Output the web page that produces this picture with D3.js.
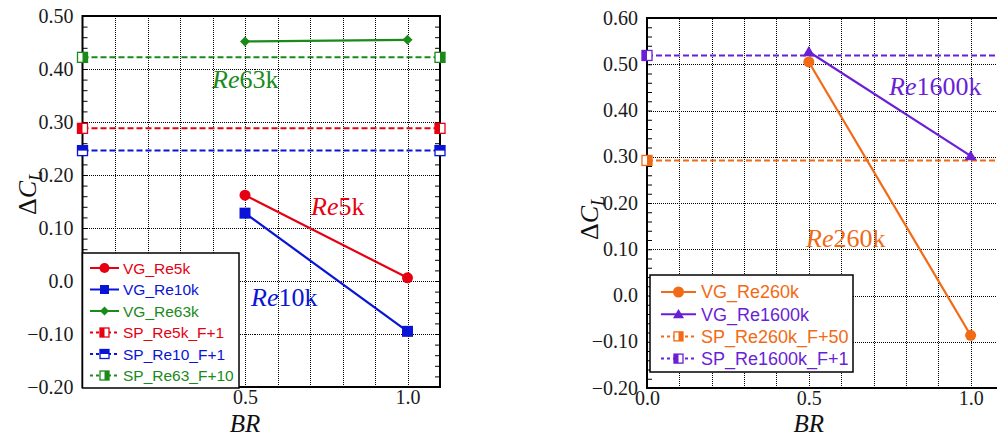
<!DOCTYPE html>
<html>
<head>
<meta charset="utf-8">
<script src="https://cdn.jsdelivr.net/npm/d3@7"></script>
<style>
  body { margin: 0; background: #fff; }
  svg { display: block; }
  .grid line { stroke: #000; stroke-width: 1; stroke-dasharray: 1,1; shape-rendering: crispEdges; }
  .minor line { stroke: #000; stroke-width: 1; }
</style>
</head>
<body>
<svg id="chart" width="997" height="436"></svg>
<script>
// ---- data ----
var brVG = [0.5, 1.0];
var spBR = [0.0, 1.1];

// left panel
var vgRe5k = [0.162, 0.006];
var vgRe10k = [0.128, -0.095];
var vgRe63k = [0.452, 0.455];
var spRe5k = 0.288;
var spRe10 = 0.246;
var spRe63 = 0.422;
var leftYTicks = [-0.2, -0.1, 0.0, 0.1, 0.2, 0.3, 0.4, 0.5];
var leftXTicks = [0.5, 1.0];
var leftXGrid = [0.1, 0.2, 0.3, 0.4, 0.5, 0.6, 0.7, 0.8, 0.9, 1.0];

// right panel
var vgRe260k = [0.505, -0.086];
var vgRe1600k = [0.527, 0.302];
var spRe260k = 0.292;
var spRe1600k = 0.519;
var rightYTicks = [-0.2, -0.1, 0.0, 0.1, 0.2, 0.3, 0.4, 0.5, 0.6];
var rightXTicks = [0.0, 0.5, 1.0];
var rightXGrid = [0.1, 0.2, 0.3, 0.4, 0.5, 0.6, 0.7, 0.8, 0.9, 1.0];

var RED = "#e60012", BLUE = "#0a14d6", GREEN = "#1a8a1a", ORANGE = "#f26a14", PURPLE = "#6a1fd6";
var SERIF = "'Liberation Serif', 'Times New Roman', Times, serif";
var SANS = "'Liberation Sans', Arial, sans-serif";

var svg = d3.select("#chart");

var fmtY = function (d) {
  if (Math.abs(d) < 1e-9) return "0.0";
  return d3.format(".2f")(d);
};

// half filled square, 'half' = left | right | top
function halfSquare(g, cx, cy, s, color, half) {
  g.append("rect").attr("x", cx - s / 2).attr("y", cy - s / 2).attr("width", s).attr("height", s)
    .attr("fill", "#fff").attr("stroke", color).attr("stroke-width", 1.3);
  var r = g.append("rect").attr("fill", color);
  if (half === "left") r.attr("x", cx - s / 2).attr("y", cy - s / 2).attr("width", s / 2).attr("height", s);
  if (half === "right") r.attr("x", cx).attr("y", cy - s / 2).attr("width", s / 2).attr("height", s);
  if (half === "top") r.attr("x", cx - s / 2).attr("y", cy - s / 2).attr("width", s).attr("height", s / 2);
}

// s = overall marker width in px
function marker(g, type, cx, cy, s, color) {
  var h = s / 2, d;
  if (type === "circle") d = d3.symbol().type(d3.symbolCircle).size(Math.PI * h * h)();
  else if (type === "square") d = d3.symbol().type(d3.symbolSquare).size(s * s)();
  else if (type === "diamond") d = "M0," + (-h) + "L" + h + ",0L0," + h + "L" + (-h) + ",0Z";
  else d = "M0," + (-h * 0.95) + "L" + h + "," + (h * 0.75) + "L" + (-h) + "," + (h * 0.75) + "Z";
  g.append("path").attr("d", d)
    .attr("transform", "translate(" + cx + "," + cy + ")")
    .attr("fill", color);
}

function drawPanel(p) {
  var x = d3.scaleLinear().domain([0, 1.1]).range([p.left, p.right]);
  var y = d3.scaleLinear().domain(p.yDomain).range([p.bottom, p.top]);
  var g = svg.append("g");

  // grid
  g.append("g").attr("class", "grid")
    .attr("transform", "translate(" + p.left + ",0)")
    .call(d3.axisLeft(y).tickValues(p.yTicks).tickSize(-(p.right - p.left)).tickFormat(""))
    .call(function (a) { a.select(".domain").remove(); });
  g.append("g").attr("class", "grid")
    .attr("transform", "translate(0," + p.bottom + ")")
    .call(d3.axisBottom(x).tickValues(p.xGrid).tickSize(-(p.bottom - p.top)).tickFormat(""))
    .call(function (a) { a.select(".domain").remove(); });

  // minor ticks on the y axes (inward)
  var minor = d3.range(p.yDomain[0] * 50, p.yDomain[1] * 50 + 0.5).map(function (d) { return d / 50; });
  g.append("g").attr("class", "minor")
    .attr("transform", "translate(" + p.left + ",0)")
    .call(d3.axisLeft(y).tickValues(minor).tickSize(-5).tickFormat(""))
    .call(function (a) { a.select(".domain").remove(); });
  g.append("g").attr("class", "minor")
    .attr("transform", "translate(" + p.right + ",0)")
    .call(d3.axisRight(y).tickValues(minor).tickSize(-5).tickFormat(""))
    .call(function (a) { a.select(".domain").remove(); });

  // tick labels
  g.append("g")
    .attr("transform", "translate(" + p.left + ",0)")
    .call(d3.axisLeft(y).tickValues(p.yTicks).tickSize(0).tickPadding(9).tickFormat(fmtY))
    .call(function (a) {
      a.select(".domain").remove();
      a.selectAll("text").attr("dy", "0.3em").style("font-family", SERIF).style("font-size", "20px").attr("fill", "#1a1a1a");
    });
  g.append("g")
    .attr("transform", "translate(0," + p.bottom + ")")
    .call(d3.axisBottom(x).tickValues(p.xTicks).tickSize(0).tickPadding(3).tickFormat(d3.format(".1f")))
    .call(function (a) {
      a.select(".domain").remove();
      a.selectAll("text").style("font-family", SERIF).style("font-size", "20px").attr("fill", "#1a1a1a");
    });

  // frame
  g.append("rect").attr("x", p.left).attr("y", p.top)
    .attr("width", p.right - p.left).attr("height", p.bottom - p.top)
    .attr("fill", "none").attr("stroke", "#000").attr("stroke-width", 2);

  var line = d3.line().x(function (d) { return x(d[0]); }).y(function (d) { return y(d[1]); });

  // SP dashed reference lines
  p.sp.forEach(function (s) {
    g.append("path").datum(spBR.map(function (b) { return [b, s.value]; }))
      .attr("d", line).attr("fill", "none").attr("stroke", s.color)
      .attr("stroke-width", 2).attr("stroke-dasharray", "6,3");
  });
  p.sp.forEach(function (s) {
    spBR.forEach(function (b) { halfSquare(g, x(b), y(s.value), 10, s.color, s.half); });
  });

  // VG series
  p.vg.forEach(function (s) {
    var pts = brVG.map(function (b, i) { return [b, s.values[i]]; });
    g.append("path").datum(pts).attr("d", line).attr("fill", "none")
      .attr("stroke", s.color).attr("stroke-width", 2.2);
    pts.forEach(function (d) { marker(g, s.shape, x(d[0]), y(d[1]), s.size, s.color); });
  });

  // in-plot labels
  p.labels.forEach(function (l) {
    var t = g.append("text").attr("x", l.x).attr("y", l.y)
      .style("font-family", SERIF).style("font-size", "26px").attr("fill", l.color);
    t.append("tspan").style("font-style", "italic").text("Re");
    t.append("tspan").text(l.text);
  });

  // axis titles
  g.append("text").attr("x", x(0.5)).attr("y", 432).attr("text-anchor", "middle")
    .style("font-family", SERIF).style("font-size", "25px")
    .style("font-style", "italic").attr("fill", "#111").text("BR");
  var yl = g.append("text")
    .attr("transform", "translate(" + p.yLabelX + "," + p.yLabelY + ") rotate(-90)")
    .attr("text-anchor", "middle")
    .style("font-family", SERIF).style("font-size", "26px").attr("fill", "#111");
  yl.append("tspan").text("Δ");
  yl.append("tspan").style("font-style", "italic").text("C");
  yl.append("tspan").style("font-style", "italic").style("font-size", "18px").attr("dy", 6).text("L");

  // legend
  var L = p.legend;
  g.append("rect").attr("x", L.x0).attr("y", L.y0).attr("width", L.x1 - L.x0).attr("height", L.y1 - L.y0)
    .attr("fill", "#fff").attr("stroke", "#000").attr("stroke-width", 1.5);
  L.items.forEach(function (it, i) {
    var cy = L.row0 + i * L.step;
    g.append("line").attr("x1", L.lx0).attr("x2", L.lx1).attr("y1", cy).attr("y2", cy)
      .attr("stroke", it.color).attr("stroke-width", 2)
      .attr("stroke-dasharray", it.dashed ? "3,3" : null);
    var mx = (L.lx0 + L.lx1) / 2;
    if (it.half) halfSquare(g, mx, cy, 9, it.color, it.half);
    else marker(g, it.shape, mx, cy, it.size, it.color);
    g.append("text").attr("x", L.tx).attr("y", cy).attr("dy", "0.36em")
      .style("font-family", SANS).style("font-size", L.font + "px")
      .attr("fill", it.color).text(it.name);
  });
}

drawPanel({
  left: 82.5, right: 440, top: 16, bottom: 387,
  yDomain: [-0.2, 0.5], yTicks: leftYTicks, xTicks: leftXTicks, xGrid: leftXGrid,
  yLabelX: 36, yLabelY: 193,
  sp: [
    { value: spRe63, color: GREEN, half: "right" },
    { value: spRe5k, color: RED, half: "left" },
    { value: spRe10, color: BLUE, half: "top" }
  ],
  vg: [
    { values: vgRe63k, color: GREEN, shape: "diamond", size: 10 },
    { values: vgRe5k, color: RED, shape: "circle", size: 11 },
    { values: vgRe10k, color: BLUE, shape: "square", size: 11 }
  ],
  labels: [
    { x: 212, y: 88, text: "63k", color: GREEN },
    { x: 311, y: 215, text: "5k", color: RED },
    { x: 251, y: 306, text: "10k", color: BLUE }
  ],
  legend: {
    x0: 82.5, x1: 239, y0: 253, y1: 388, row0: 268, step: 21.5,
    lx0: 90, lx1: 119, tx: 123, font: 15.5,
    items: [
      { name: "VG_Re5k", color: RED, shape: "circle", size: 10 },
      { name: "VG_Re10k", color: BLUE, shape: "square", size: 9 },
      { name: "VG_Re63k", color: GREEN, shape: "diamond", size: 9 },
      { name: "SP_Re5k_F+1", color: RED, dashed: true, half: "left" },
      { name: "SP_Re10_F+1", color: BLUE, dashed: true, half: "top" },
      { name: "SP_Re63_F+10", color: GREEN, dashed: true, half: "right" }
    ]
  }
});

drawPanel({
  left: 647, right: 1003, top: 18, bottom: 388,
  yDomain: [-0.2, 0.6], yTicks: rightYTicks, xTicks: rightXTicks, xGrid: rightXGrid,
  yLabelX: 598, yLabelY: 218,
  sp: [
    { value: spRe1600k, color: PURPLE, half: "left" },
    { value: spRe260k, color: ORANGE, half: "right" }
  ],
  vg: [
    { values: vgRe260k, color: ORANGE, shape: "circle", size: 11 },
    { values: vgRe1600k, color: PURPLE, shape: "triangle", size: 12 }
  ],
  labels: [
    { x: 889, y: 95, text: "1600k", color: PURPLE },
    { x: 806, y: 247, text: "260k", color: ORANGE }
  ],
  legend: {
    x0: 650, x1: 853, y0: 275, y1: 372, row0: 292, step: 22.2,
    lx0: 661, lx1: 696, tx: 701, font: 18,
    items: [
      { name: "VG_Re260k", color: ORANGE, shape: "circle", size: 11 },
      { name: "VG_Re1600k", color: PURPLE, shape: "triangle", size: 11 },
      { name: "SP_Re260k_F+50", color: ORANGE, dashed: true, half: "right" },
      { name: "SP_Re1600k_F+1", color: PURPLE, dashed: true, half: "left" }
    ]
  }
});
</script>
</body>
</html>
